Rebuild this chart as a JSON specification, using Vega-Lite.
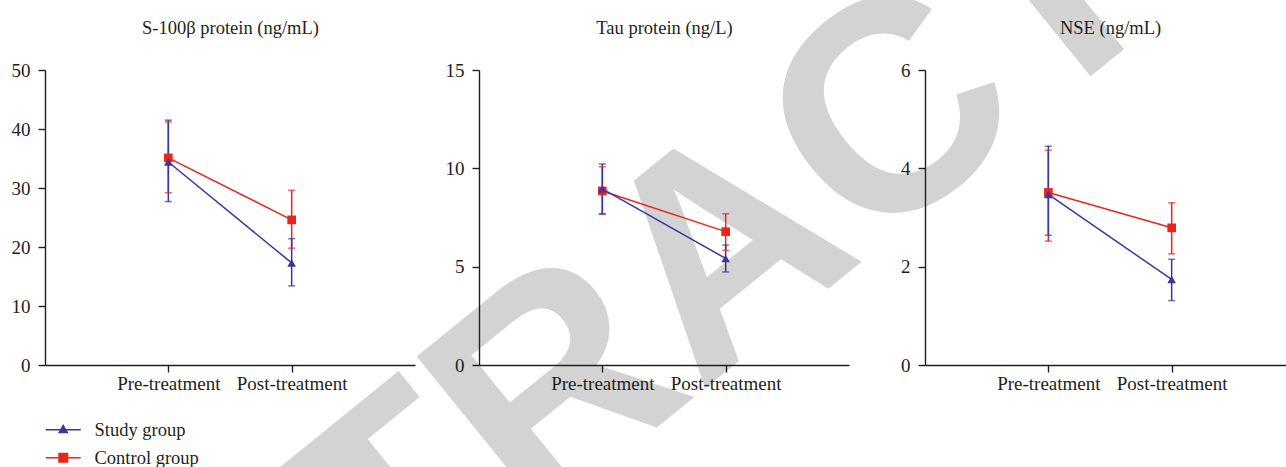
{
  "$schema": "https://vega.github.io/schema/vega-lite/v6.json",
  "autosize": {"type": "none"},
  "padding": {"left": 45, "top": 70, "right": 1241, "bottom": 397},
  "background": "white",
  "bounds": "flush",
  "spacing": 64,
  "data": {
    "values": [
      {"panel": "S100", "time": "Pre-treatment", "group": "Control group", "mean": 35.1, "lo": 29.2, "hi": 41.2},
      {"panel": "S100", "time": "Post-treatment", "group": "Control group", "mean": 24.6, "lo": 19.8, "hi": 29.6},
      {"panel": "S100", "time": "Pre-treatment", "group": "Study group", "mean": 34.4, "lo": 27.7, "hi": 41.5},
      {"panel": "S100", "time": "Post-treatment", "group": "Study group", "mean": 17.3, "lo": 13.4, "hi": 21.4},
      {"panel": "Tau", "time": "Pre-treatment", "group": "Control group", "mean": 8.85, "lo": 7.66, "hi": 10.08},
      {"panel": "Tau", "time": "Post-treatment", "group": "Control group", "mean": 6.78, "lo": 5.83, "hi": 7.69},
      {"panel": "Tau", "time": "Pre-treatment", "group": "Study group", "mean": 8.96, "lo": 7.69, "hi": 10.22},
      {"panel": "Tau", "time": "Post-treatment", "group": "Study group", "mean": 5.42, "lo": 4.73, "hi": 6.1},
      {"panel": "NSE", "time": "Pre-treatment", "group": "Control group", "mean": 3.51, "lo": 2.52, "hi": 4.37},
      {"panel": "NSE", "time": "Post-treatment", "group": "Control group", "mean": 2.79, "lo": 2.26, "hi": 3.3},
      {"panel": "NSE", "time": "Pre-treatment", "group": "Study group", "mean": 3.47, "lo": 2.64, "hi": 4.45},
      {"panel": "NSE", "time": "Post-treatment", "group": "Study group", "mean": 1.74, "lo": 1.31, "hi": 2.15}
    ]
  },
  "hconcat": [
    {
      "width": 370,
      "height": 295,
      "layer": [
        {
          "data": {"values": [{"label": "RETRACTED", "wx": 1.843, "wy": 0.373}]},
          "mark": {"type": "text", "font": "Liberation Sans", "fontWeight": "bold", "fontSize": 300, "angle": 321, "align": "center", "baseline": "middle", "color": "#d3d3d3"},
          "encoding": {
            "x": {"field": "wx", "type": "quantitative", "scale": {"domain": [0, 1], "nice": false, "zero": false}, "axis": null},
            "y": {"field": "wy", "type": "quantitative", "scale": {"domain": [0, 1], "nice": false, "zero": false}, "axis": null},
            "text": {"field": "label"}
          }
        },
        {
          "transform": [{"filter": "datum.panel === 'S100'"}],
          "encoding": {
            "x": {"field": "time", "type": "nominal", "sort": ["Pre-treatment", "Post-treatment"], "scale": {"type": "point", "padding": 1}, "axis": {"orient": "bottom", "labelAngle": 0, "labelPadding": 2, "title": null}},
            "color": {"field": "group", "type": "nominal", "scale": {"domain": ["Study group", "Control group"], "range": ["#3b35a0", "#e8261c"]},
              "legend": {
                "orient": "none", "legendX": 9, "legendY": 350.5, "title": null, "padding": 0,
                "symbolSize": 100, "labelOffset": 22, "rowPadding": 9,
                "labelFont": "Liberation Serif", "labelFontSize": 18.5, "labelColor": "#231f20",
                "encode": {"symbols": {"update": {
                  "shape": {"signal": "datum.value === 'Study group' ? 'M-3.5,0H3.5M0,-0.85L0.8,0.55L-0.8,0.55Z' : 'M-3.5,0H3.5M-0.85,-0.85H0.85V0.85H-0.85Z'"},
                  "stroke": {"scale": "color", "field": "value"},
                  "fill": {"scale": "color", "field": "value"},
                  "strokeWidth": {"value": 1.5},
                  "opacity": {"value": 1}
                }}}
              }}
          },
          "layer": [
            {"mark": {"type": "rule", "strokeWidth": 1.5}, "encoding": {"y": {"field": "lo", "type": "quantitative", "scale": {"domain": [0, 50], "nice": false}, "axis": {"orient": "left", "values": [0, 10, 20, 30, 40, 50], "labelPadding": 8, "title": "S-100β protein (ng/mL)", "titleX": 185, "titleY": -37}}, "y2": {"field": "hi"}}},
            {"mark": {"type": "tick", "thickness": 1.5, "size": 7}, "encoding": {"y": {"field": "lo", "type": "quantitative"}}},
            {"mark": {"type": "tick", "thickness": 1.5, "size": 7}, "encoding": {"y": {"field": "hi", "type": "quantitative"}}},
            {"mark": {"type": "line", "strokeWidth": 1.5}, "encoding": {"y": {"field": "mean", "type": "quantitative"}}},
            {"mark": {"type": "point", "filled": true, "size": 75, "opacity": 1}, "encoding": {
              "y": {"field": "mean", "type": "quantitative"},
              "shape": {"field": "group", "type": "nominal", "scale": {"domain": ["Study group", "Control group"], "range": ["triangle-up", "square"]}, "legend": null}
            }}
          ]
        }
      ],
      "resolve": {"scale": {"x": "independent", "y": "independent"}}
    },
    {
      "width": 382,
      "height": 295,
      "transform": [{"filter": "datum.panel === 'Tau'"}],
      "encoding": {
        "x": {"field": "time", "type": "nominal", "sort": ["Pre-treatment", "Post-treatment"], "scale": {"type": "point", "padding": 1, "range": [0, 370]}, "axis": {"orient": "bottom", "labelAngle": 0, "labelPadding": 2, "title": null}},
        "color": {"field": "group", "type": "nominal", "scale": {"domain": ["Study group", "Control group"], "range": ["#3b35a0", "#e8261c"]}, "legend": null}
      },
      "layer": [
        {"mark": {"type": "rule", "strokeWidth": 1.5}, "encoding": {"y": {"field": "lo", "type": "quantitative", "scale": {"domain": [0, 15], "nice": false}, "axis": {"orient": "left", "values": [0, 5, 10, 15], "labelPadding": 8, "title": "Tau protein (ng/L)", "titleX": 185, "titleY": -37}}, "y2": {"field": "hi"}}},
        {"mark": {"type": "tick", "thickness": 1.5, "size": 7}, "encoding": {"y": {"field": "lo", "type": "quantitative"}}},
        {"mark": {"type": "tick", "thickness": 1.5, "size": 7}, "encoding": {"y": {"field": "hi", "type": "quantitative"}}},
        {"mark": {"type": "line", "strokeWidth": 1.5}, "encoding": {"y": {"field": "mean", "type": "quantitative"}}},
        {"mark": {"type": "point", "filled": true, "size": 75, "opacity": 1}, "encoding": {
          "y": {"field": "mean", "type": "quantitative"},
          "shape": {"field": "group", "type": "nominal", "scale": {"domain": ["Study group", "Control group"], "range": ["triangle-up", "square"]}, "legend": null}
        }}
      ]
    },
    {
      "width": 370,
      "height": 295,
      "transform": [{"filter": "datum.panel === 'NSE'"}],
      "encoding": {
        "x": {"field": "time", "type": "nominal", "sort": ["Pre-treatment", "Post-treatment"], "scale": {"type": "point", "padding": 1}, "axis": {"orient": "bottom", "labelAngle": 0, "labelPadding": 2, "title": null}},
        "color": {"field": "group", "type": "nominal", "scale": {"domain": ["Study group", "Control group"], "range": ["#3b35a0", "#e8261c"]}, "legend": null}
      },
      "layer": [
        {"mark": {"type": "rule", "strokeWidth": 1.5}, "encoding": {"y": {"field": "lo", "type": "quantitative", "scale": {"domain": [0, 6], "nice": false}, "axis": {"orient": "left", "values": [0, 2, 4, 6], "labelPadding": 8, "title": "NSE (ng/mL)", "titleX": 185, "titleY": -37}}, "y2": {"field": "hi"}}},
        {"mark": {"type": "tick", "thickness": 1.5, "size": 7}, "encoding": {"y": {"field": "lo", "type": "quantitative"}}},
        {"mark": {"type": "tick", "thickness": 1.5, "size": 7}, "encoding": {"y": {"field": "hi", "type": "quantitative"}}},
        {"mark": {"type": "line", "strokeWidth": 1.5}, "encoding": {"y": {"field": "mean", "type": "quantitative"}}},
        {"mark": {"type": "point", "filled": true, "size": 75, "opacity": 1}, "encoding": {
          "y": {"field": "mean", "type": "quantitative"},
          "shape": {"field": "group", "type": "nominal", "scale": {"domain": ["Study group", "Control group"], "range": ["triangle-up", "square"]}, "legend": null}
        }}
      ]
    }
  ],
  "resolve": {"scale": {"x": "independent", "y": "independent", "color": "shared", "shape": "shared"}, "legend": {"color": "independent"}},
  "config": {
    "font": "Liberation Serif",
    "view": {"stroke": null},
    "axis": {"domainColor": "#231f20", "tickColor": "#231f20", "domainWidth": 1.4, "tickWidth": 1.4, "tickSize": 7, "labelFont": "Liberation Serif", "labelFontSize": 19, "labelColor": "#231f20", "grid": false,
      "titleFont": "Liberation Serif", "titleFontSize": 18.5, "titleFontWeight": "normal", "titleColor": "#231f20", "titleAngle": 0, "titleAlign": "center", "titleBaseline": "alphabetic"}
  }
}
